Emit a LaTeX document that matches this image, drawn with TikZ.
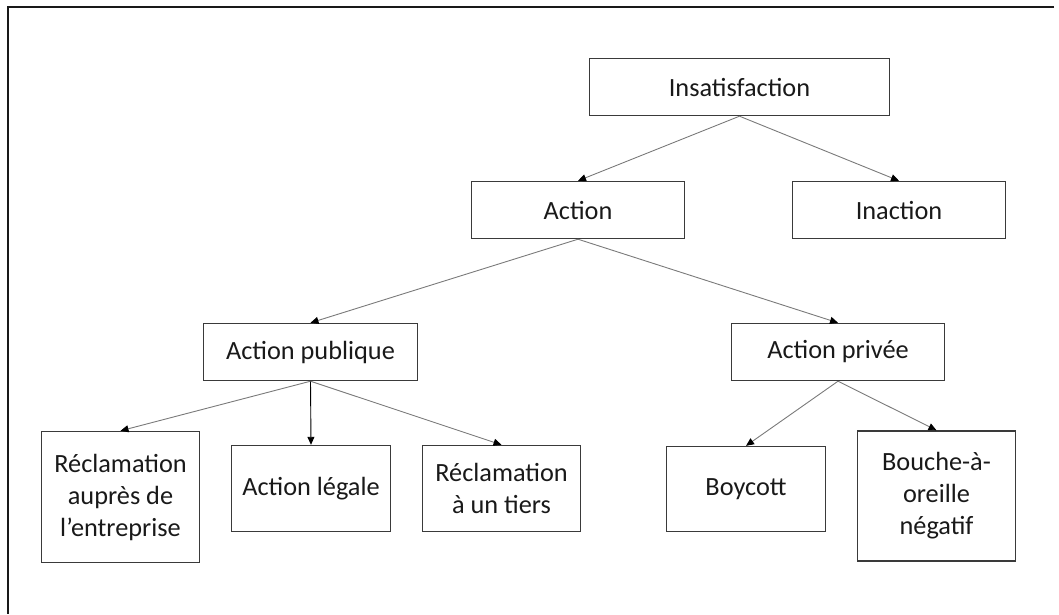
\documentclass[tikz,border=0pt]{standalone}
\usepackage{fontspec}
\setmainfont{Carlito}
\usetikzlibrary{arrows.meta}
\definecolor{boxline}{HTML}{3A3A3A}
\definecolor{arrline}{HTML}{7A7A7A}
\tikzset{
  box/.style={draw=boxline, line width=1.4pt, inner sep=0pt, align=center,
    font=\fontsize{26.3}{32}\selectfont, text=black!90},
  conn/.style={draw=arrline, line width=0.9pt, -{Triangle[length=8pt,width=7pt,black]}},
  connblack/.style={draw=black, line width=0.9pt, -{Triangle[length=8pt,width=7pt,black]}},
  frameline/.style={draw=black!90, line width=1.8pt}
}
\begin{document}
\begin{tikzpicture}[x=1pt,y=-1pt]
\useasboundingbox (0,0) rectangle (1059,614);
\coordinate (fr) at (1054,7);
\coordinate (fc) at (8,7);
\coordinate (fb) at (8,614);
\draw[frameline] (fr) -- (fc) -- (fb);

\node[box, minimum width=300pt, minimum height=57pt] (ins) at (739.5,87) {Insatisfaction};
\node[box, minimum width=213pt, minimum height=57pt] (act) at (578,210) {Action};
\node[box, minimum width=213pt, minimum height=57pt] (inact) at (899,210) {Inaction};
\node[box, minimum width=214pt, minimum height=57pt] (pub) at (310.5,352) {Action publique};
\node[box, minimum width=213pt, minimum height=57pt] (priv) at (838,352) {Action privée};
\node[box, minimum width=158pt, minimum height=131pt] (rec1) at (120.5,497) {Réclamation\\auprès de\\l’entreprise};
\node[box, minimum width=159pt, minimum height=86pt] (leg) at (311,488.5) {Action légale};
\node[box, minimum width=158pt, minimum height=86pt] (rec2) at (501.5,488.5) {Réclamation\\à un tiers};
\node[box, minimum width=159pt, minimum height=85pt] (boy) at (746,489) {Boycott};
\node[box, minimum width=158pt, minimum height=130pt] (bou) at (936.5,496) {Bouche-à-\\oreille\\négatif};

\draw[conn] (ins.south) -- (act.north);
\draw[conn] (ins.south) -- (inact.north);
\draw[conn] (act.south) -- (pub.north);
\draw[conn] (act.south) -- (priv.north);
\draw[conn] (pub.south) -- (rec1.north);
\draw[connblack] (pub.south) -- (leg.north);
\draw[conn] (pub.south) -- (rec2.north);
\draw[conn] (priv.south) -- (boy.north);
\draw[conn] (priv.south) -- (bou.north);
\end{tikzpicture}
\end{document}
